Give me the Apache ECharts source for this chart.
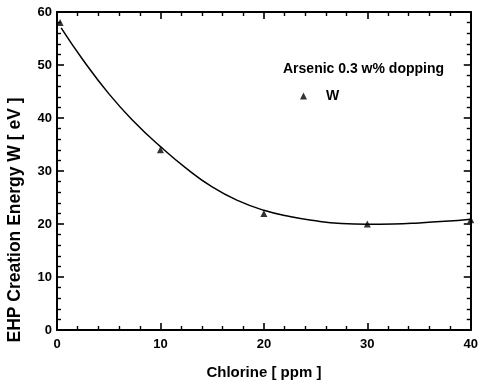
<!DOCTYPE html>
<html><head><meta charset="utf-8">
<script src="https://cdn.jsdelivr.net/npm/echarts@6/dist/echarts.min.js"></script>
<style>html,body{margin:0;padding:0;background:#fff}#c{width:481px;height:385px}</style>
</head><body><div id="c"></div>
<script>
// Measured points (Chlorine ppm, W eV)
const pointsX = [0.3, 10, 20, 30, 40];
const pointsY = [58, 34, 22, 20, 20.8];
// Fitted curve
const curveX = [0.4, 2.5, 5, 7.5, 10, 12.5, 15, 17.5, 20, 22.5, 25, 27.5, 30, 32.5, 35, 37.5, 40];
const curveY = [57, 51, 44.6, 39.2, 34.6, 30.5, 27, 24.4, 22.6, 21.4, 20.6, 20.1, 19.95, 20, 20.2, 20.5, 20.9];
const xTicks = [0, 10, 20, 30, 40];
const yTicks = [0, 10, 20, 30, 40, 50, 60];
const legendTitle = 'Arsenic 0.3 w% dopping';
const seriesName = 'W';
const xName = 'Chlorine [ ppm ]';
const yName = 'EHP Creation Energy W [ eV ]';

const font = '"Liberation Sans", Arial, sans-serif';
const chart = echarts.init(document.getElementById('c'));
const axLine = {show: true, onZero: false, lineStyle: {color: '#000', width: 2}};
const mkX = (show, pos) => ({
  type: 'value', min: xTicks[0], max: xTicks[xTicks.length - 1], interval: 10, position: pos,
  axisLine: axLine,
  axisTick: {show: true, inside: true, length: 7, lineStyle: {color: '#000', width: 1.6}},
  minorTick: {show: true, splitNumber: 5, length: 4, lineStyle: {color: '#000', width: 1.4}},
  splitLine: {show: false},
  axisLabel: {show: show, color: '#000', fontWeight: 'bold', fontSize: 13, fontFamily: font, margin: 8},
  name: show ? xName : '', nameLocation: 'middle', nameGap: 35,
  nameTextStyle: {color: '#000', fontWeight: 'bold', fontSize: 15, fontFamily: font}
});
const mkY = (show, pos) => ({
  type: 'value', min: yTicks[0], max: yTicks[yTicks.length - 1], interval: 10, position: pos,
  axisLine: axLine,
  axisTick: {show: true, inside: true, length: 7, lineStyle: {color: '#000', width: 1.6}},
  minorTick: {show: true, splitNumber: 5, length: 4, lineStyle: {color: '#000', width: 1.4}},
  splitLine: {show: false},
  axisLabel: {show: show, color: '#000', fontWeight: 'bold', fontSize: 13, fontFamily: font, margin: 5}
});
chart.setOption({
  animation: false,
  grid: {left: 57, right: 9, top: 12, bottom: 55},
  xAxis: [mkX(true, 'bottom'), mkX(false, 'top')],
  yAxis: [mkY(true, 'left'), mkY(false, 'right')],
  legend: {
    left: 295, top: 84, itemWidth: 7, itemHeight: 7, icon: 'triangle',
    data: [{name: seriesName, icon: 'triangle'}],
    textStyle: {color: '#000', fontWeight: 'bold', fontSize: 14, fontFamily: font, padding: [0, 0, 0, 14]}
  },
  graphic: [{
    type: 'text', left: 283, top: 62,
    style: {text: legendTitle, fill: '#000', font: 'bold 14px ' + font}
  }, {
    type: 'text', x: 15, y: 220, rotation: Math.PI / 2,
    style: {text: yName, fill: '#000', font: 'bold 17.5px ' + font, align: 'center', verticalAlign: 'middle'}
  }],
  series: [
    {type: 'line', name: 'fit', smooth: true, showSymbol: false, symbol: 'none',
     data: curveX.map((x, i) => [x, curveY[i]]),
     lineStyle: {color: '#000', width: 1.5}, z: 2},
    {type: 'scatter', name: seriesName, symbol: 'triangle', symbolSize: 7,
     data: pointsX.map((x, i) => [x, pointsY[i]]),
     itemStyle: {color: '#000'}, z: 3}
  ]
});
</script></body></html>
